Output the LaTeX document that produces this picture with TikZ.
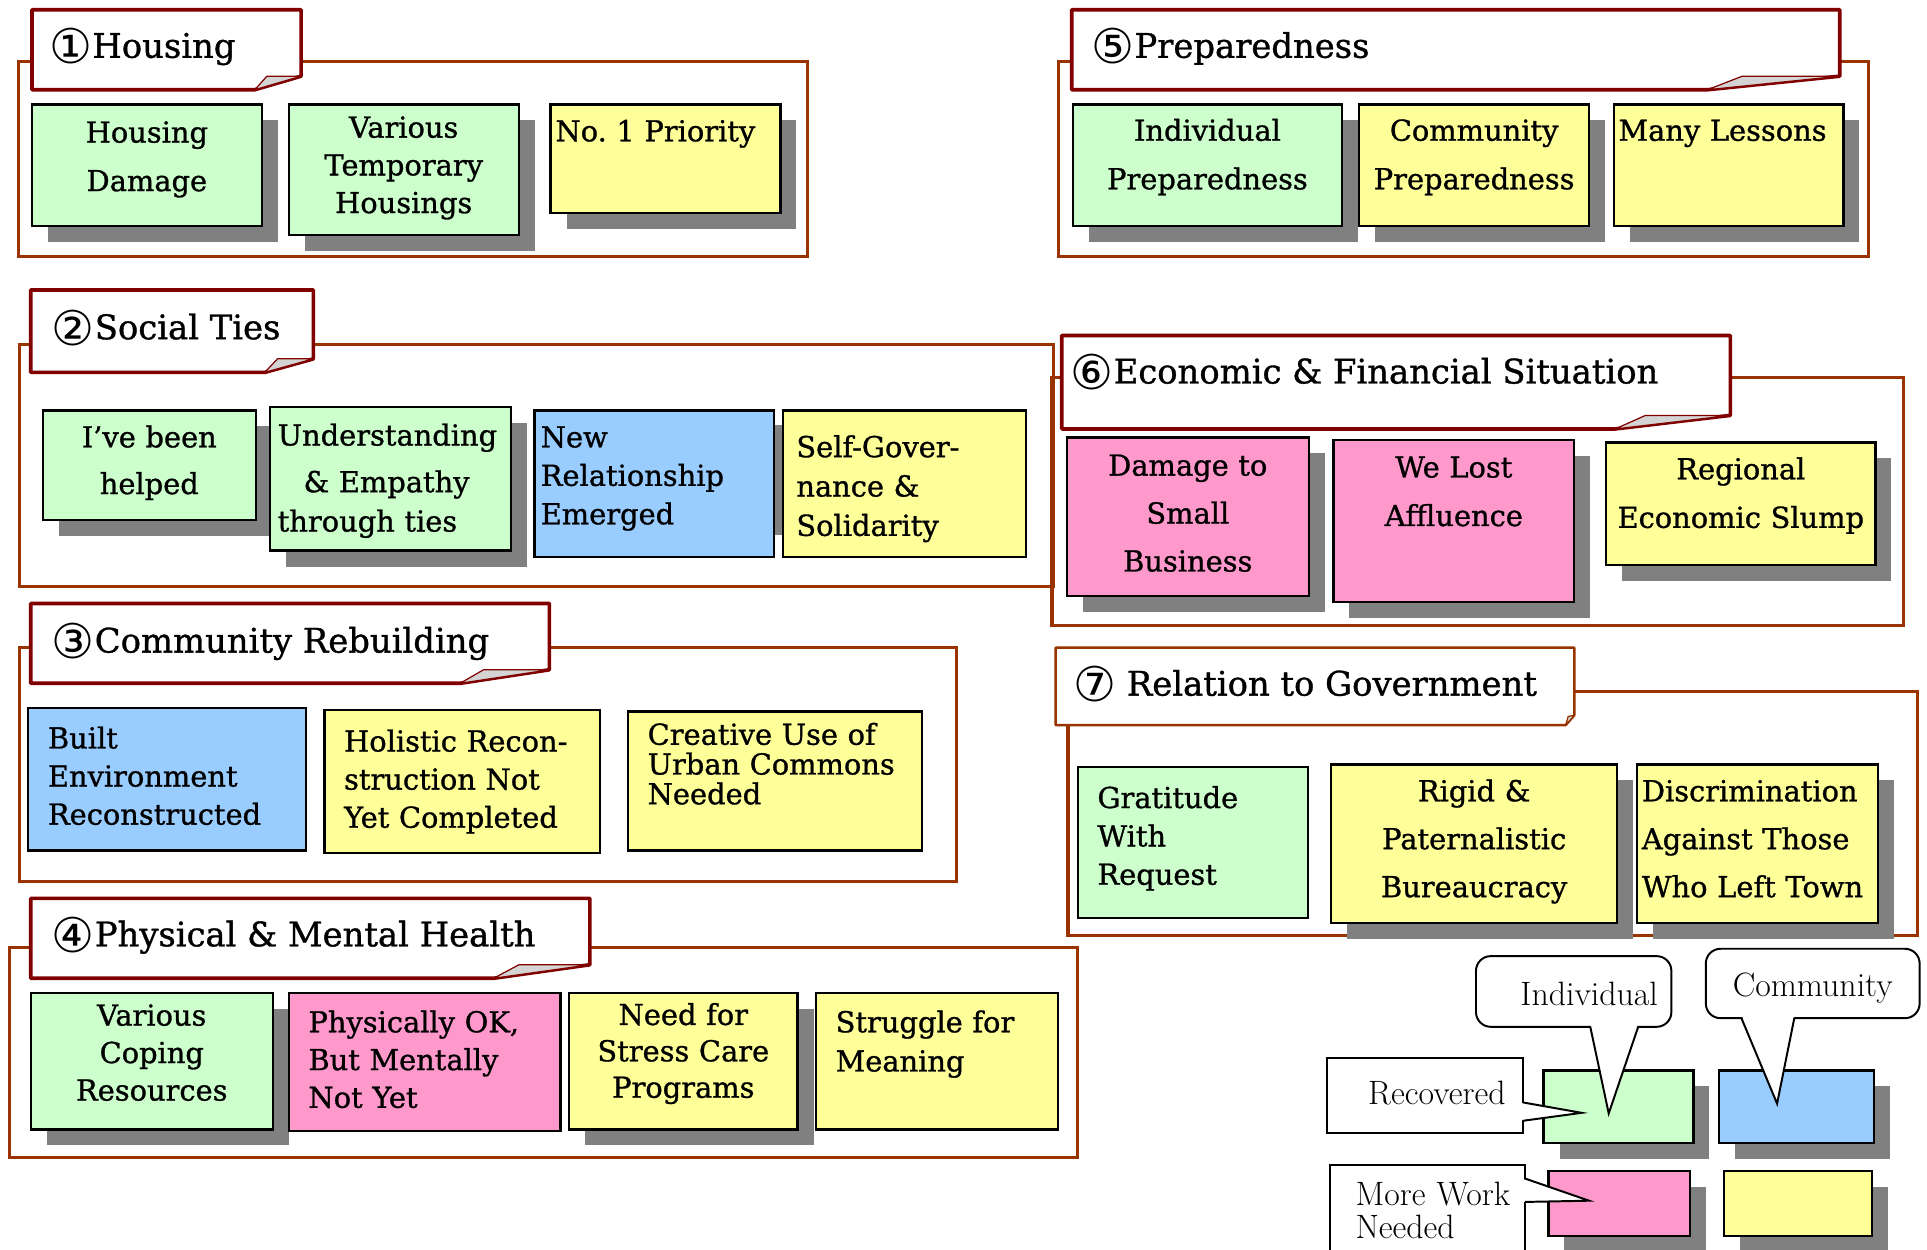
\documentclass[tikz,border=0pt]{standalone}
\usepackage{fontspec}
\newfontfamily\cardfont{DejaVu Serif}[FakeBold=1]
\newfontfamily\circfont{DejaVu Sans}
\usetikzlibrary{shadows,calc}

\definecolor{cgreen}{HTML}{CCFFCC}
\definecolor{cyellow}{HTML}{FFFF99}
\definecolor{cblue}{HTML}{99CCFF}
\definecolor{cpink}{HTML}{FF99CC}
\definecolor{framebrown}{HTML}{993300}
\definecolor{tabred}{HTML}{800000}
\definecolor{foldgray}{HTML}{D4D4D4}

\newcommand\cnum[1]{\raisebox{-5pt}{\circfont\fontsize{39}{39}\selectfont #1}}

\tikzset{
  frame/.style={draw=framebrown, line width=2.5pt},
  tabline/.style={draw=tabred, line width=3pt, line join=round},
  foldline/.style={draw=tabred, line width=1pt, fill=foldgray, line join=round},
  titletext/.style={anchor=base west, inner sep=0pt, font=\cardfont\fontsize{27.5}{30}\selectfont},
  card/.style={draw=black, line width=1.8pt, anchor=north west, outer sep=0pt,
    inner ysep=0pt, font=\cardfont\fontsize{23.5}{31}\selectfont,
    execute at begin node={\hyphenpenalty=10000\exhyphenpenalty=10000}},
  lead/.style={font=\cardfont\fontsize{23.5}{#1}\selectfont},
  shadowed/.style={drop shadow={shadow xshift=13pt, shadow yshift=-13pt, fill=black!50, opacity=1}},
  bubble/.style={draw=black, line width=1.6pt, fill=white, anchor=north west, outer sep=0pt,
    inner ysep=0pt, font=\fontsize{27.5}{27}\selectfont},
  pointer/.style={draw=black, line width=1.6pt, line join=miter},
}

\begin{document}
\begin{tikzpicture}[x=1pt, y=-1pt]
\path[use as bounding box, fill=white] (0,0) rectangle (1568,1017);

% section frames
\foreach \xa/\ya/\xb/\yb in {15/50/657/209, 861/50/1520/209, 16/280/857/477, 856/307/1549/509,
    16/527/778/717, 869/563/1560/761, 8/771/877/942}
  \draw[frame] (\xa,\ya) rectangle (\xb,\yb);

% title tabs with folded corner
\foreach \xa/\ya/\xb/\yb in {26/8/245/73, 25/236/255/303, 25/491/447/556, 25/731/480/796,
    872/8/1497/73, 864/273/1408/349}{
  \pgfmathsetmacro\xf{\xb-0.172*(\xb-\xa)}
  \pgfmathsetmacro\xp{\xf+0.045*(\xb-\xa)}
  \draw[tabline, fill=white] (\xa,\ya) -- (\xb,\ya) -- (\xb,\yb-11) -- (\xf,\yb) -- (\xa,\yb) -- cycle;
  \draw[foldline] (\xf,\yb) -- (\xp,\yb-11) -- (\xb,\yb-11) -- cycle;
}
\draw[tabline, draw=framebrown, line width=2pt, fill=white]
  (859,527) -- (1281,527) -- (1281,582) -- (1274,590) -- (859,590) -- cycle;
\draw[foldline, draw=framebrown] (1274,590) -- (1276,583) -- (1281,582) -- cycle;

\node[titletext] (t1) at (40,47) {\cnum{①}Housing};
\node[titletext] (t2) at (42,276) {\cnum{②}Social Ties};
\node[titletext] (t3) at (42,531) {\cnum{③}Community Rebuilding};
\node[titletext] (t4) at (42,770) {\cnum{④}Physical \& Mental Health};
\node[titletext] (t5) at (888,47) {\cnum{⑤}Preparedness};
\node[titletext] (t6) at (871,312) {\cnum{⑥}Economic \& Financial Situation};
\node[titletext] (t7) at (873,566) {\cnum{⑦} Relation to Government};

% 1 housing
\node[card, shadowed, fill=cgreen, align=center, lead=39.5, inner xsep=4pt, text width=179pt,
  text height=31pt, text depth=68pt] (hdamage) at (26,85) {Housing\\Damage};
\node[card, shadowed, fill=cgreen, align=center, lead=30.7, inner xsep=4pt, text width=179pt,
  text height=27pt, text depth=79pt] (htemp) at (235,85) {Various\\Temporary\\Housings};
\node[card, shadowed, fill=cyellow, align=left, inner xsep=4pt, text width=179pt,
  text height=30pt, text depth=58pt] (hprio) at (448,85) {No.~1~Priority};

% 5 preparedness
\node[card, shadowed, fill=cgreen, align=center, lead=39.5, inner xsep=4pt, text width=211pt,
  text height=29.5pt, text depth=69.5pt] (pindiv) at (873,85) {Individual\\Preparedness};
\node[card, shadowed, fill=cyellow, align=center, lead=39.5, inner xsep=4pt, text width=179pt,
  text height=29.5pt, text depth=69.5pt] (pcomm) at (1106,85) {Community\\Preparedness};
\node[card, shadowed, fill=cyellow, align=left, inner xsep=4pt, text width=179pt,
  text height=29.5pt, text depth=69.5pt] (plessons) at (1313,85) {Many~Lessons};

% 2 social ties
\node[card, shadowed, fill=cgreen, align=center, lead=38, inner xsep=4pt, text width=165pt,
  text height=30pt, text depth=59pt] (shelped) at (35,334) {I’ve~been\\helped};
\node[card, shadowed, fill=cgreen, align=left, lead=38, inner xsep=6pt, text width=184pt,
  text height=31.5pt, text depth=85.5pt] (sempathy) at (220,331)
  {Understanding\\\hspace*{21pt}\&~Empathy\\[-6pt]through~ties};
\fill[black!50] (630,346) rectangle (637,435);
\node[card, fill=cblue, align=left, lead=31.3, inner xsep=5pt, text width=185pt,
  text height=30pt, text depth=89pt] (snewrel) at (435,334) {New\\Relationship\\Emerged};
\node[card, fill=cyellow, align=left, lead=32, inner xsep=11pt, text width=176pt,
  text height=38pt, text depth=81pt] (sselfgov) at (637,334) {Self-Gover-\\nance~\&\\Solidarity};

% 6 economic
\node[card, shadowed, fill=cpink, align=center, lead=39, inner xsep=4pt, text width=189pt,
  text height=31pt, text depth=98pt] (esmall) at (868,356) {Damage~to\\Small\\Business};
\node[card, shadowed, fill=cpink, align=center, lead=39.5, inner xsep=4pt, text width=188pt,
  text height=30.5pt, text depth=101.5pt] (eaffl) at (1085,358) {We~Lost\\Affluence};
\node[card, shadowed, fill=cyellow, align=center, lead=39.5, inner xsep=4pt, text width=211pt,
  text height=30pt, text depth=70pt] (eslump) at (1307,360) {Regional\\Economic~Slump};

% 3 community rebuilding
\node[card, fill=cblue, align=left, lead=31, inner xsep=16pt, text width=194pt,
  text height=33pt, text depth=83pt] (cbuilt) at (23,576) {Built\\Environment\\Reconstructed};
\node[card, fill=cyellow, align=left, lead=31, inner xsep=16pt, text width=192pt,
  text height=33.5pt, text depth=82.5pt] (cholist) at (264,578)
  {Holistic~Recon-\\struction~Not\\Yet~Completed};
\node[card, fill=cyellow, align=left, lead=24.2, inner xsep=16pt, text width=207pt,
  text height=27pt, text depth=86pt] (ccommons) at (511,579)
  {Creative~Use~of\\Urban~Commons\\Needed};

% 7 government
\node[card, fill=cgreen, align=left, lead=31.2, inner xsep=16pt, text width=155pt,
  text height=33.5pt, text depth=89.5pt] (ggrat) at (877,624) {Gratitude\\With\\Request};
\node[card, shadowed, fill=cyellow, align=center, lead=39, inner xsep=4pt, text width=225pt,
  text height=30pt, text depth=99pt] (grigid) at (1083,622) {Rigid~\&\\Paternalistic\\Bureaucracy};
\node[card, shadowed, fill=cyellow, align=left, lead=39, inner xsep=4pt, text width=188pt,
  text height=30pt, text depth=99pt] (gdiscr) at (1332,622)
  {Discrimination\\Against~Those\\Who~Left~Town};

% 4 health
\node[card, shadowed, fill=cgreen, align=center, lead=30.5, inner xsep=4pt, text width=189pt,
  text height=26.5pt, text depth=84.5pt] (mcoping) at (25,808) {Various\\Coping\\Resources};
\node[card, fill=cpink, align=left, lead=30.7, inner xsep=16pt, text width=189pt,
  text height=32pt, text depth=80pt] (mmental) at (235,808)
  {Physically~OK,\\But~Mentally\\Not~Yet};
\node[card, shadowed, fill=cyellow, align=center, lead=29.6, inner xsep=4pt, text width=178pt,
  text height=26pt, text depth=85pt] (mstress) at (463,808) {Need~for\\Stress~Care\\Programs};
\node[card, fill=cyellow, align=left, lead=31.8, inner xsep=16pt, text width=165pt,
  text height=32pt, text depth=79pt] (mmeaning) at (664,808) {Struggle~for\\Meaning};

% legend
\node[card, shadowed, fill=cgreen, minimum width=122pt, minimum height=59pt, inner sep=0pt] (keygreen) at (1256,871) {};
\node[card, shadowed, fill=cblue, minimum width=126pt, minimum height=59pt, inner sep=0pt] (keyblue) at (1399,871) {};
\node[card, shadowed, fill=cpink, minimum width=115pt, minimum height=53pt, inner sep=0pt] (keypink) at (1260,953) {};
\node[card, shadowed, fill=cyellow, minimum width=120pt, minimum height=53pt, inner sep=0pt] (keyyellow) at (1403,953) {};

\node[bubble, rounded corners=12pt, align=right, inner xsep=11pt, text width=137pt,
  text height=40pt, text depth=17.5pt] (ind) at (1201,778) {Individual};
\node[bubble, rounded corners=12pt, align=center, inner xsep=4pt, text width=166pt,
  text height=39pt, text depth=17.5pt] (com) at (1388,772) {Community};
\node[bubble, align=right, inner xsep=14pt, text width=131pt,
  text height=38pt, text depth=23pt] (rec) at (1080,861) {Recovered};
\node[bubble, align=left, font=\fontsize{27.5}{27}\selectfont, inner xsep=21pt, text width=117pt,
  text height=33pt, text depth=49pt] (more) at (1082,948) {More~Work\\Needed};

\coordinate (indtip) at (1309,906);
\coordinate (comtip) at (1446,898);
\coordinate (rectip) at (1287,905.5);
\coordinate (moretip) at (1293,977);
\fill[white] ($(ind.south)+(13.5,-3)$) -- (indtip) -- ($(ind.south)+(52.5,-3)$) -- cycle;
\draw[pointer] ($(ind.south)+(13.5,0)$) -- (indtip) -- ($(ind.south)+(52.5,0)$);
\fill[white] ($(com.south)+(-58,-3)$) -- (comtip) -- ($(com.south)+(-15,-3)$) -- cycle;
\draw[pointer] ($(com.south)+(-58,0)$) -- (comtip) -- ($(com.south)+(-15,0)$);
\fill[white] ($(rec.east)+(-3,5.5)$) -- (rectip) -- ($(rec.east)+(-3,20.5)$) -- cycle;
\draw[pointer] ($(rec.east)+(0,5.5)$) -- (rectip) -- ($(rec.east)+(0,20.5)$);
\fill[white] ($(more.east)+(-3,-30)$) -- (moretip) -- ($(more.east)+(-3,-11)$) -- cycle;
\draw[pointer] ($(more.east)+(0,-30)$) -- (moretip) -- ($(more.east)+(0,-11)$);
\end{tikzpicture}
\end{document}
